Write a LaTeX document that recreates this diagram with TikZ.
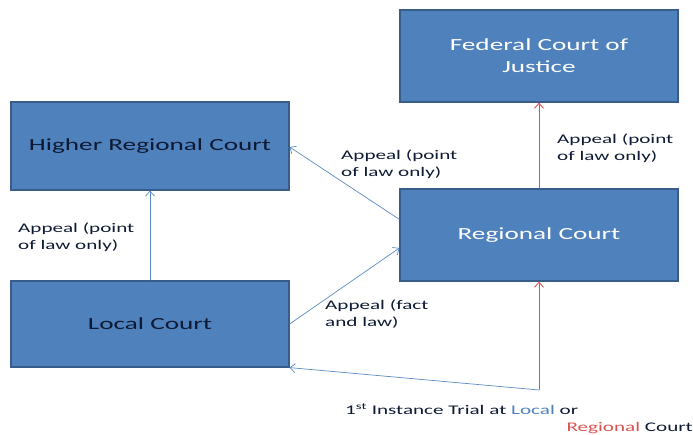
\documentclass[tikz,border=0pt]{standalone}
\usepackage{fontspec}
\setmainfont[FakeStretch=1.6]{Carlito}
\usetikzlibrary{arrows.meta}
\definecolor{courtfill}{HTML}{4F81BD}
\definecolor{courtdraw}{HTML}{385D8A}
\definecolor{courtline}{HTML}{5B8BC4}
\definecolor{courtred}{HTML}{D9544F}
\definecolor{courtdark}{HTML}{0E1A33}
\tikzset{court/.style={rectangle,fill=courtfill,draw=courtdraw,line width=1.2pt,minimum width=278pt,align=center,font=\fontsize{17}{22}\selectfont},
  appeal/.style={anchor=base west,align=left,inner sep=0pt,font=\fontsize{13.2}{17}\selectfont,text=courtdark},
  blueline/.style={draw=courtline,line width=0.7pt},
  redline/.style={draw=courtred,line width=0.9pt}}

\begin{document}
\begin{tikzpicture}[x=1pt,y=-1pt,>={Straight Barb[length=5pt,width=9pt]}]
\useasboundingbox (0,0) rectangle (693,434);

% Courts
\node[court, minimum height=92pt, text=white]      (federal)  at (539,56)  {Federal Court of\\Justice};
\node[court, minimum height=88pt, text=courtdark]  (higher)   at (150,146) {Higher Regional Court};
\node[court, minimum height=92pt, text=white]      (regional) at (539,235) {Regional Court};
\node[court, minimum height=86pt, text=courtdark]  (local)    at (150,324) {Local Court};
\coordinate (trial) at (539,390);

% Appeals
\draw[blueline,->] (local.north) -- (higher.south);
\draw[blueline,->] ([yshift=-31pt]regional.north west) -- ([yshift=-1pt]higher.east);
\draw[blueline,->] (local.east) -- ([yshift=-13pt]regional.west);
\draw[redline,->] (regional.north) -- (federal.south);
\draw[redline,->] (trial) -- (regional.south);
\draw[blueline,->] (trial) -- (local.south east);

% Labels (base = last line)
\node[appeal] (lbl-lh) at (18,249)  {Appeal (point\\of law only)};
\node[appeal] (lbl-rh) at (341,176) {Appeal (point\\of law only)};
\node[appeal] (lbl-rf) at (557,160) {Appeal (point\\of law only)};
\node[appeal] (lbl-lr) at (325,326) {Appeal (fact\\and law)};
\node[appeal] (lbl-t1) at (345,414) {1\textsuperscript{st} Instance Trial at \textcolor{courtfill}{Local} or};
\node[appeal, anchor=base east] (lbl-t2) at (693,431) {\textcolor{courtred}{Regional} Court};
\end{tikzpicture}
\end{document}
